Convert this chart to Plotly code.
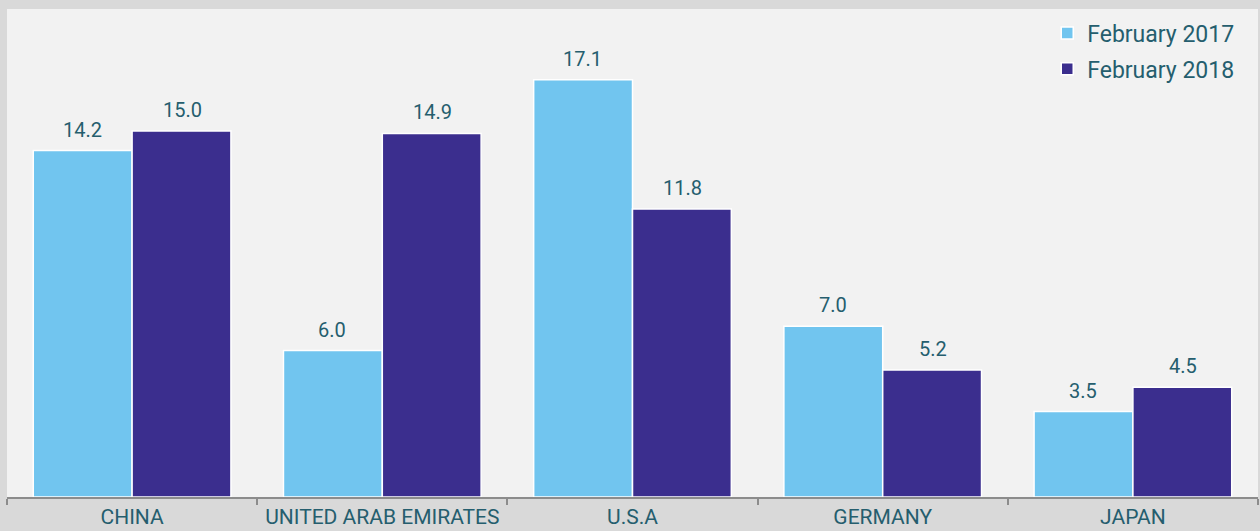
import plotly.graph_objects as go

countries = ["CHINA", "UNITED ARAB EMIRATES", "U.S.A", "GERMANY", "JAPAN"]
feb_2017 = [14.2, 6.0, 17.1, 7.0, 3.5]
feb_2018 = [15.0, 14.9, 11.8, 5.2, 4.5]

TEXT = "#255e6e"
FONT = "Roboto"

fig = go.Figure()
fig.add_bar(
    x=countries, y=feb_2017, name="February 2017", legendgroup="a",
    marker=dict(color="#71c5ef", line=dict(color="white", width=1.5)),
)
fig.add_bar(
    x=countries, y=feb_2018, name="February 2018", legendgroup="b",
    marker=dict(color="#3b2e8e", line=dict(color="white", width=1.5)),
)

# value labels sit well above the bars
for vals, shift in [(feb_2017, -50), (feb_2018, 50)]:
    for c, v in zip(countries, vals):
        fig.add_annotation(
            x=c, y=v, text=f"{v:.1f}", showarrow=False,
            xshift=shift, yshift=7, yanchor="bottom",
            font=dict(size=20, color=TEXT, family=FONT),
        )

fig.update_layout(
    width=1260,
    height=531,
    barmode="group",
    bargap=0.21,
    bargroupgap=0,
    paper_bgcolor="#d9d9d9",
    plot_bgcolor="#f2f2f2",
    margin=dict(l=7, r=2, t=9, b=34),
    font=dict(family=FONT, color=TEXT, size=20),
    legend=dict(
        x=0.985, y=0.995, xanchor="right", yanchor="top",
        font=dict(size=23, color=TEXT),
        bgcolor="rgba(0,0,0,0)",
        traceorder="grouped", tracegroupgap=3,
    ),
)
fig.update_xaxes(
    showline=True, linecolor="#8c8c8c", linewidth=2,
    ticks="outside", tickson="boundaries", ticklen=6, tickcolor="#8c8c8c", tickwidth=2,
    tickfont=dict(size=21, color=TEXT),
)
fig.update_yaxes(range=[0, 20], visible=False, showgrid=False)

# page body has a default 8px margin; drop it so the figure fills the window
fig.write_html(
    "out.html",
    config={"displayModeBar": False},
    post_script="document.body.style.margin='0';",
)
